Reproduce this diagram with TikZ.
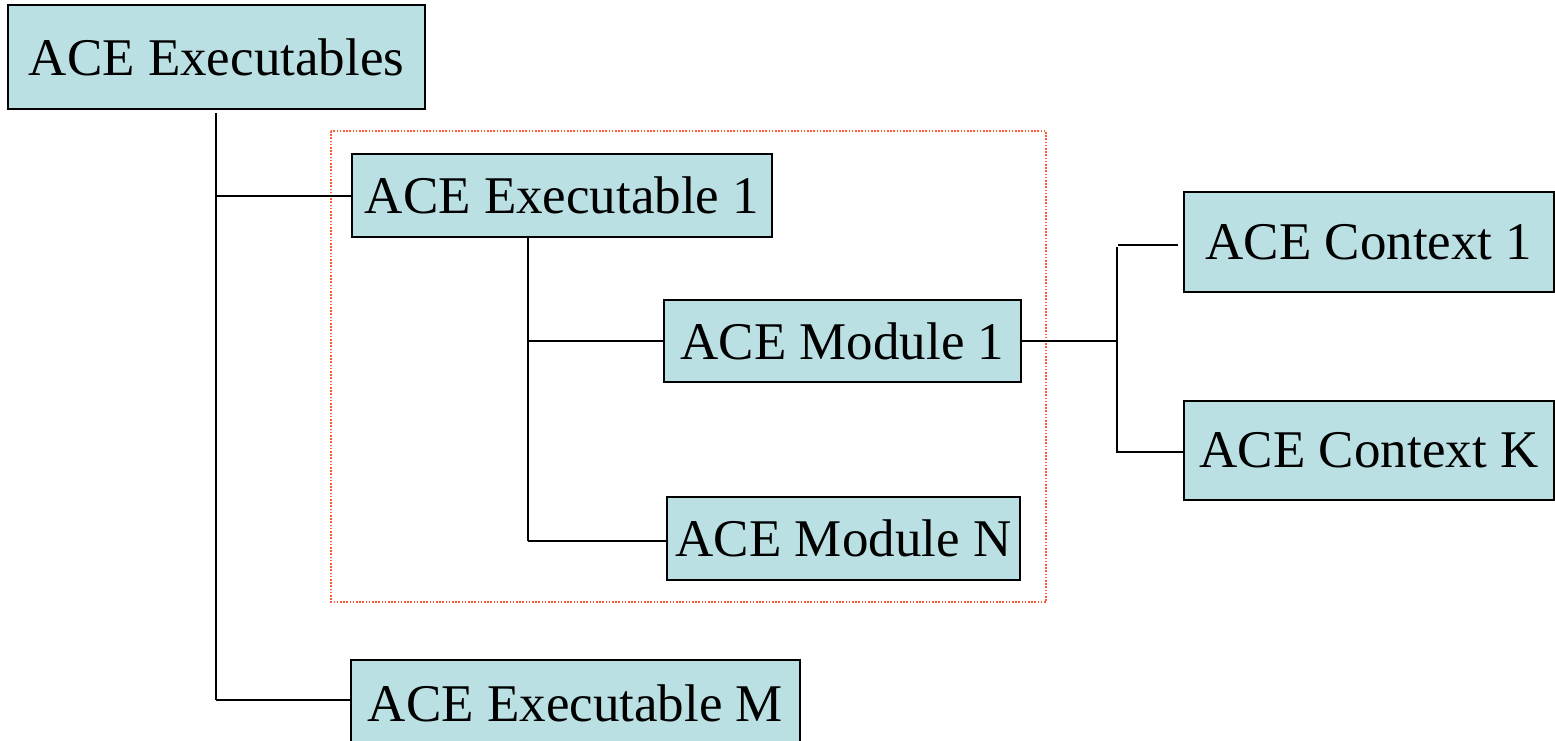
\documentclass[tikz,border=0pt]{standalone}
\usepackage{fontspec}
\setmainfont{Liberation Serif}
\definecolor{boxfill}{HTML}{BAE0E3}
\definecolor{groupred}{HTML}{FF5A36}
\begin{document}
\begin{tikzpicture}[x=1pt,y=-1pt,
  box/.style={draw=black, line width=2pt, fill=boxfill, inner sep=0pt,
    font=\fontsize{53}{53}\selectfont, text=black},
  conn/.style={draw=black, line width=1.8pt},
  group/.style={draw=groupred, line width=1.3pt, dash pattern=on 1.6pt off 1.6pt}]
\useasboundingbox (0,0) rectangle (1555,741);
\fill[white] (0,0) rectangle (1555,741);
% group frame
\draw[group] (331,131) rectangle (1046,602);
% boxes
\node[box, minimum width=417pt, minimum height=104pt] (exes) at (216.5,57) {ACE Executables};
\node[box, minimum width=420pt, minimum height=83pt] (exe1) at (562,195.5) {ACE Executable 1};
\node[box, minimum width=357pt, minimum height=82pt] (mod1) at (842.5,341) {ACE Module 1};
\node[box, minimum width=353pt, minimum height=83pt] (modN) at (843.5,538.5) {ACE Module N};
\node[box, minimum width=370pt, minimum height=100pt] (ctx1) at (1369,242) {ACE Context 1};
\node[box, minimum width=370pt, minimum height=99pt] (ctxK) at (1369,450.5) {ACE Context K};
\node[box, minimum width=449pt, minimum height=86pt] (exeM) at (575.5,703) {ACE Executable M};
% connectors
\coordinate (t1) at (216,113);
\coordinate (t2) at (216,196);
\coordinate (t3) at (216,700);
\draw[conn] (t1) -- (t3);
\draw[conn] (t2) -- (t2 -| exe1.west);
\draw[conn] (t3) -- (t3 -| exeM.west);
\coordinate (e1) at (528,237);
\coordinate (e2) at (528,341);
\coordinate (e3) at (528,541);
\draw[conn] (e1 |- exe1.south) -- (e3);
\draw[conn] (e2) -- (e2 -| mod1.west);
\draw[conn] (e3) -- (e3 -| modN.west);
\coordinate (m1) at (1117,341);
\coordinate (m2) at (1117,247);
\coordinate (m3) at (1117,452);
\coordinate (m4) at (1178,245);
\coordinate (m5) at (1118,245);
\draw[conn] (mod1.east |- m1) -- (m1);
\draw[conn] (m2) -- (m3) -- (m3 -| ctxK.west);
\draw[conn] (m5) -- (m4);
\end{tikzpicture}
\end{document}
